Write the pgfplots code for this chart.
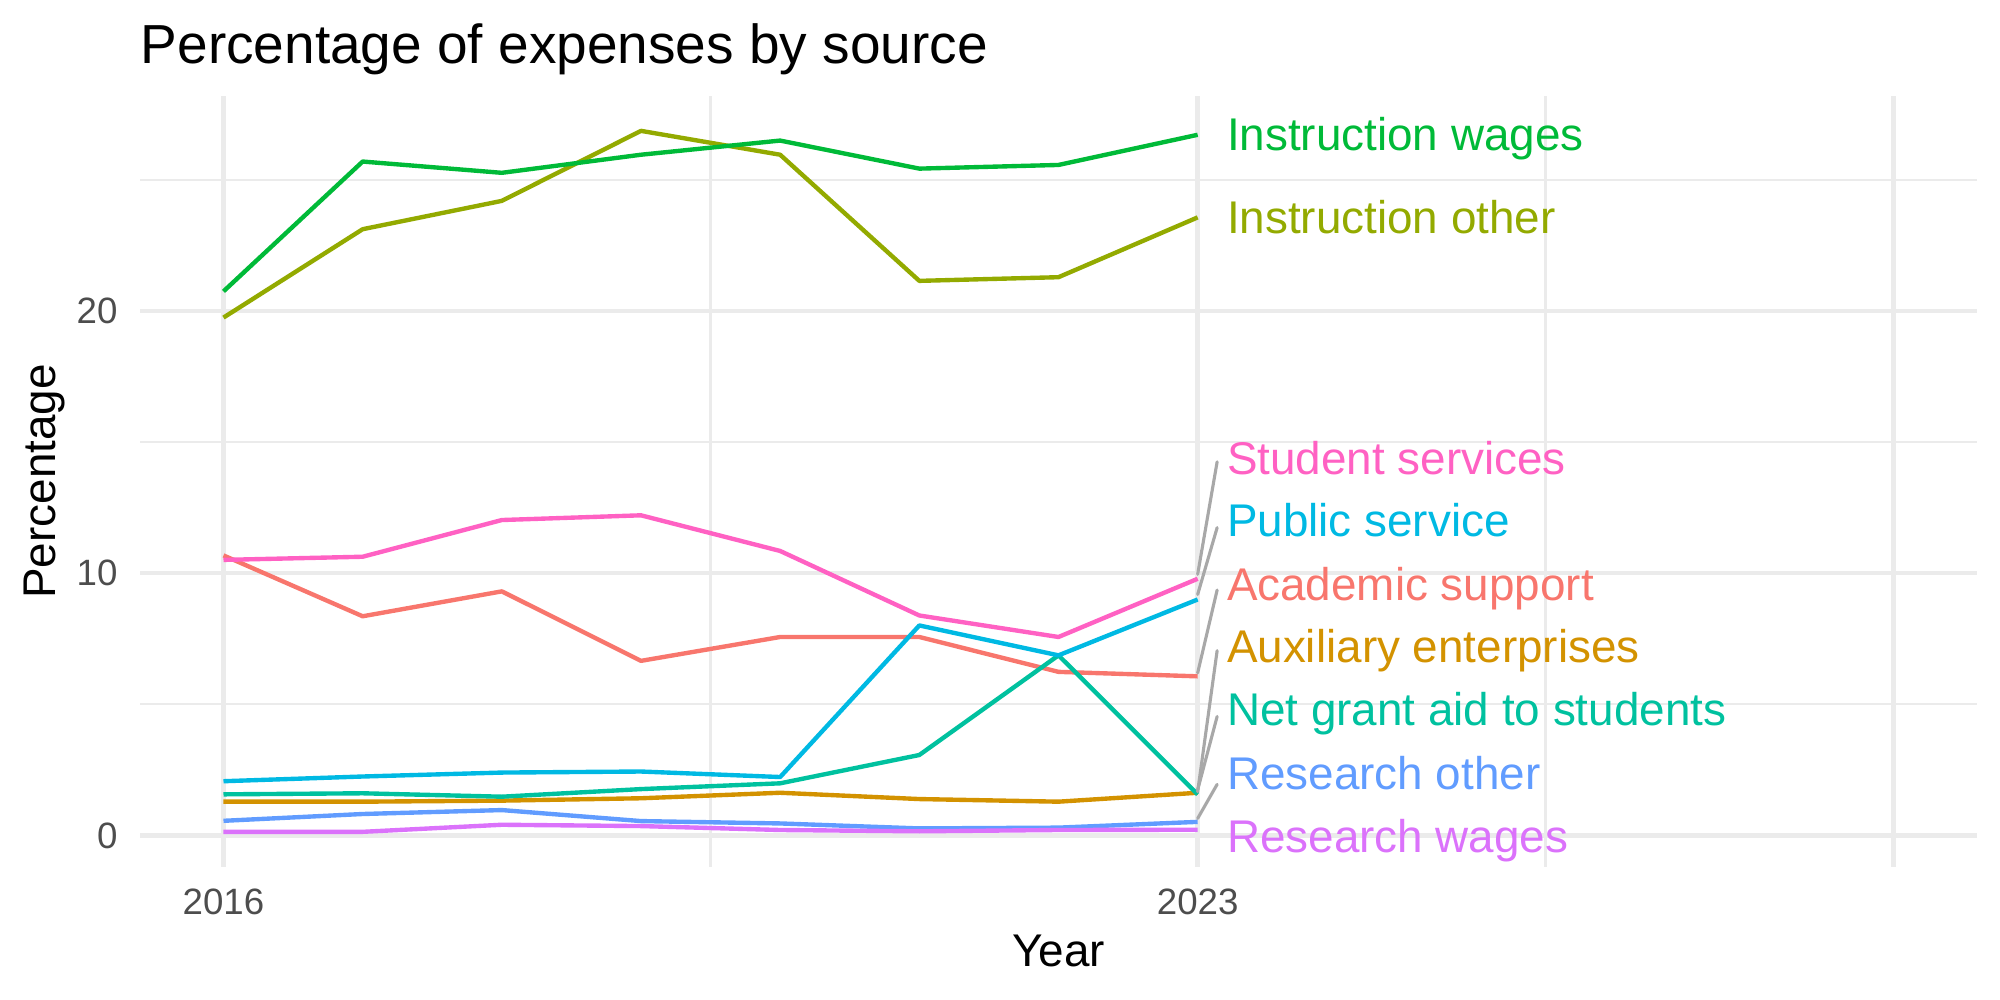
\documentclass[border=0pt]{standalone}
\usepackage{fontspec}
\setmainfont{Liberation Sans}
\usepackage{pgfplots}
\pgfplotsset{compat=1.18}
\definecolor{cAS}{HTML}{F8766D}
\definecolor{cAE}{HTML}{D39200}
\definecolor{cIO}{HTML}{93AA00}
\definecolor{cIW}{HTML}{00BA38}
\definecolor{cNG}{HTML}{00C19F}
\definecolor{cPS}{HTML}{00B9E3}
\definecolor{cRO}{HTML}{619CFF}
\definecolor{cRW}{HTML}{DB72FB}
\definecolor{cSS}{HTML}{FF61C3}
\definecolor{gridc}{HTML}{EBEBEB}
\definecolor{tickc}{HTML}{4D4D4D}
\definecolor{segc}{HTML}{A8A8A8}
\begin{document}
\begin{tikzpicture}
\useasboundingbox (-33.6pt,-31.92pt) rectangle (446.4pt,208.08pt);
\begin{axis}[
  at={(0,0)}, anchor=south west,
  scale only axis, width=440.88pt, height=185.04pt,
  xmin=2015.4, xmax=2028.6, ymin=-1.2, ymax=28.2,
  axis line style={draw=none},
  tick style={draw=none},
  major tick length=0pt, minor tick length=0pt,
  xtick={2016,2023,2028}, xticklabels={2016,2023,{}},
  minor xtick={2019.5,2025.5},
  ytick={0,10,20}, yticklabels={0,10,20},
  minor ytick={5,15,25},
  grid=both,
  major grid style={gridc, line width=1.05pt},
  minor grid style={gridc, line width=0.53pt},
  xticklabel style={anchor=base, inner sep=0pt, yshift=-11.5pt, font=\fontsize{8.8}{10}\selectfont, text=tickc},
  yticklabel style={anchor=east, inner sep=0pt, xshift=-5.2pt, font=\fontsize{8.8}{10}\selectfont, text=tickc},
  every axis plot/.append style={line width=1.05pt, line join=round, mark=none},
  label style={font=\fontsize{11}{13}\selectfont},
]
% Academic support
\addplot[cAS] coordinates {(2016,10.68) (2017,8.36) (2018,9.31) (2019,6.66) (2020,7.57) (2021,7.57) (2022,6.24) (2023,6.07)};
% Auxiliary enterprises
\addplot[cAE] coordinates {(2016,1.29) (2017,1.29) (2018,1.33) (2019,1.42) (2020,1.63) (2021,1.39) (2022,1.29) (2023,1.63)};
% Instruction other
\addplot[cIO] coordinates {(2016,19.75) (2017,23.12) (2018,24.20) (2019,26.87) (2020,25.96) (2021,21.15) (2022,21.29) (2023,23.57)};
% Instruction wages
\addplot[cIW] coordinates {(2016,20.75) (2017,25.70) (2018,25.27) (2019,25.96) (2020,26.50) (2021,25.43) (2022,25.57) (2023,26.72)};
% Net grant aid to students
\addplot[cNG] coordinates {(2016,1.57) (2017,1.61) (2018,1.48) (2019,1.77) (2020,1.99) (2021,3.07) (2022,6.87) (2023,1.57)};
% Public service
\addplot[cPS] coordinates {(2016,2.07) (2017,2.25) (2018,2.40) (2019,2.44) (2020,2.23) (2021,8.01) (2022,6.87) (2023,9.00)};
% Research other
\addplot[cRO] coordinates {(2016,0.56) (2017,0.82) (2018,0.97) (2019,0.55) (2020,0.46) (2021,0.27) (2022,0.30) (2023,0.52)};
% Research wages
\addplot[cRW] coordinates {(2016,0.14) (2017,0.14) (2018,0.41) (2019,0.36) (2020,0.21) (2021,0.16) (2022,0.21) (2023,0.22)};
% Student services
\addplot[cSS] coordinates {(2016,10.51) (2017,10.63) (2018,12.03) (2019,12.21) (2020,10.85) (2021,8.39) (2022,7.57) (2023,9.79)};
% label segments
\addplot[segc, line width=0.75pt, line cap=round] coordinates {(2023.0,9.96) (2023.14,14.25)};
\addplot[segc, line width=0.75pt, line cap=round] coordinates {(2023.0,9.19) (2023.14,11.74)};
\addplot[segc, line width=0.75pt, line cap=round] coordinates {(2023.0,6.20) (2023.14,9.36)};
\addplot[segc, line width=0.75pt, line cap=round] coordinates {(2023.0,1.67) (2023.14,7.05)};
\addplot[segc, line width=0.75pt, line cap=round] coordinates {(2023.0,1.74) (2023.14,4.54)};
\addplot[segc, line width=0.75pt, line cap=round] coordinates {(2023.0,0.65) (2023.14,1.95)};
% labels
\begin{scope}[every node/.style={anchor=base west, inner sep=0pt, font=\fontsize{11}{13}\selectfont}]
\node[text=cIW] at (axis cs:2023.205,26.11) {Instruction wages};
\node[text=cIO] at (axis cs:2023.205,22.96) {Instruction other};
\node[text=cSS] at (axis cs:2023.205,13.78) {Student services};
\node[text=cPS] at (axis cs:2023.205,11.40) {Public service};
\node[text=cAS] at (axis cs:2023.205,8.96) {Academic support};
\node[text=cAE] at (axis cs:2023.205,6.58) {Auxiliary enterprises};
\node[text=cNG] at (axis cs:2023.205,4.20) {Net grant aid to students};
\node[text=cRO] at (axis cs:2023.205,1.76) {Research other};
\node[text=cRW] at (axis cs:2023.205,-0.65) {Research wages};
\end{scope}
\end{axis}
\node[anchor=base west, inner sep=0pt, font=\fontsize{13.2}{15}\selectfont] at (0pt,192.9pt) {Percentage of expenses by source};
\node[anchor=base, inner sep=0pt, font=\fontsize{11}{13}\selectfont] at (220.44pt,-23.9pt) {Year};
\node[anchor=base, rotate=90, inner sep=0pt, font=\fontsize{11}{13}\selectfont] at (-20.3pt,92.52pt) {Percentage};
\end{tikzpicture}
\end{document}
